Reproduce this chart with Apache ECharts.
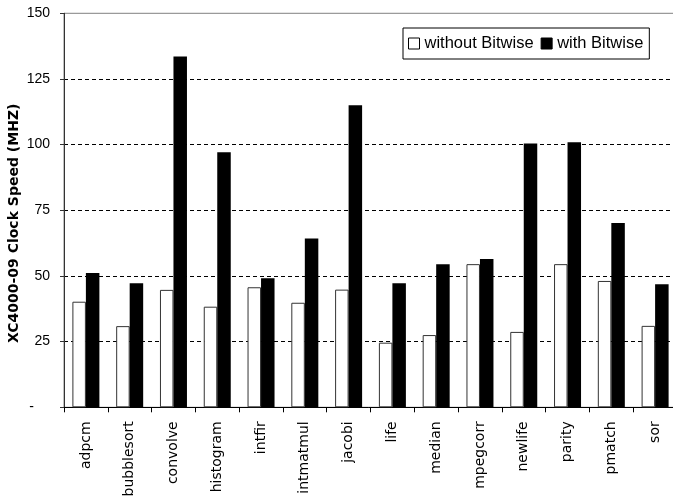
<!DOCTYPE html>
<html>
<head>
<meta charset="utf-8">
<title>XC4000-09 Clock Speed</title>
<script src="https://cdn.jsdelivr.net/npm/echarts@6/dist/echarts.min.js"></script>
<style>
  html, body { margin: 0; padding: 0; background: #fff; }
  #chart { width: 673px; height: 500px; }
</style>
</head>
<body>
<div id="chart"></div>
<script>
// Benchmarks on the category axis
const categories = ['adpcm', 'bubblesort', 'convolve', 'histogram', 'intfir', 'intmatmul', 'jacobi',
  'life', 'median', 'mpegcorr', 'newlife', 'parity', 'pmatch', 'sor'];

// Clock speed (MHz) per benchmark
const withoutBitwise = [40.2, 30.9, 44.7, 38.3, 45.7, 39.8, 44.8, 24.6, 27.5, 54.5, 28.7, 54.5, 48.1, 31.0];
const withBitwise = [51.1, 47.2, 133.6, 97.1, 49.1, 64.3, 115.0, 47.2, 54.5, 56.5, 100.4, 100.9, 70.2, 46.8];

// Value axis range and tick step
const yMin = 0;
const yMax = 150;
const yStep = 25;

const chart = echarts.init(document.getElementById('chart'), null, { renderer: 'canvas' });

// dashed gridlines only between the bottom and top of the plot
const tickCount = (yMax - yMin) / yStep + 1;
const gridColors = [];
for (let i = 0; i < tickCount; i++) {
  gridColors.push(i === 0 || i === tickCount - 1 ? 'rgba(0,0,0,0)' : '#000');
}

chart.setOption({
  animation: false,
  backgroundColor: '#fff',
  grid: {
    left: 64,
    right: -4,
    top: 13.3,
    bottom: 92.7,
    containLabel: false,
    outerBoundsMode: 'none',
    show: true,
    borderColor: '#808080',
    borderWidth: 1,
    backgroundColor: 'rgba(0,0,0,0)'
  },
  legend: {
    left: 403,
    top: 28,
    padding: [7, 6, 7, 5],
    itemWidth: 11,
    itemHeight: 11,
    itemGap: 7,
    borderColor: '#000',
    borderWidth: 1,
    backgroundColor: '#fff',
    textStyle: { fontFamily: 'Liberation Sans, Arial, sans-serif', fontSize: 16.5, color: '#000' },
    data: [
      { name: 'without Bitwise', icon: 'rect', itemStyle: { color: '#fff', borderColor: '#000', borderWidth: 1 } },
      { name: 'with Bitwise', icon: 'rect', itemStyle: { color: '#000', borderColor: '#000', borderWidth: 1 } }
    ]
  },
  xAxis: {
    type: 'category',
    data: categories,
    boundaryGap: true,
    axisLine: { show: true, lineStyle: { color: '#000', width: 1 } },
    axisTick: { show: true, length: 5, lineStyle: { color: '#000' } },
    axisLabel: {
      rotate: 90,
      margin: 14,
      interval: 0,
      fontFamily: 'DejaVu Sans, sans-serif',
      fontSize: 14,
      color: '#000'
    },
    splitLine: { show: false }
  },
  yAxis: {
    type: 'value',
    min: yMin,
    max: yMax,
    interval: yStep,
    name: 'XC4000-09 Clock Speed (MHZ)',
    nameLocation: 'middle',
    nameGap: 43,
    nameRotate: 90,
    nameMoveOverlap: false,
    nameTextStyle: {
      fontFamily: 'DejaVu Sans, sans-serif',
      fontWeight: 'bold',
      fontSize: 14,
      color: '#000',
      padding: [0, 26, 0, 0]
    },
    axisLine: { show: true, lineStyle: { color: '#333', width: 1 } },
    axisTick: { show: true, length: 4, lineStyle: { color: '#333' } },
    axisLabel: {
      margin: 14,
      fontFamily: 'Liberation Sans, Arial, sans-serif',
      fontSize: 14,
      color: '#000',
      formatter: function (v) { return v === 0 ? '{dash|-}' : String(v); },
      rich: {
        dash: { fontFamily: 'Liberation Sans, Arial, sans-serif', fontSize: 14, color: '#000', padding: [0, 16, 0, 0] }
      }
    },
    splitLine: {
      show: true,
      lineStyle: { color: gridColors, type: [4, 3], width: 1 }
    }
  },
  series: [
    {
      name: 'without Bitwise',
      type: 'bar',
      data: withoutBitwise,
      barWidth: 13.5,
      barGap: '0%',
      itemStyle: { color: '#fff', borderColor: '#333', borderWidth: 1 }
    },
    {
      name: 'with Bitwise',
      type: 'bar',
      data: withBitwise,
      barWidth: 13.5,
      barGap: '0%',
      itemStyle: { color: '#000', borderColor: '#000', borderWidth: 0 }
    }
  ]
});
</script>
</body>
</html>
